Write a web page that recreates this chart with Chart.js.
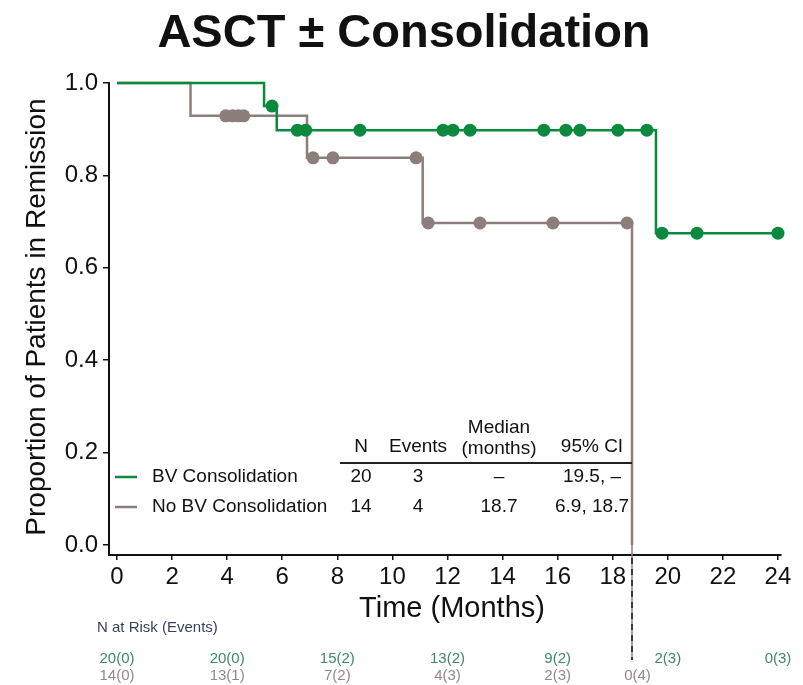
<!DOCTYPE html>
<html>
<head>
<meta charset="utf-8">
<script src="https://cdn.jsdelivr.net/npm/chart.js@4.4.1/dist/chart.umd.min.js"></script>
<style>
  html, body { margin: 0; padding: 0; background: #ffffff; }
  #wrap { width: 803px; height: 685px; position: relative; }
</style>
</head>
<body>
<div id="wrap"><canvas id="km" width="803" height="685"></canvas></div>
<script>
// Axis ticks
const xTicks = [0, 2, 4, 6, 8, 10, 12, 14, 16, 18, 20, 22, 24];
const yTicks = [0.0, 0.2, 0.4, 0.6, 0.8, 1.0];

// Kaplan-Meier steps: BV consolidation
const bvStepTimes = [0, 5.34, 5.8, 19.57, 24.0];
const bvStepSurv  = [1.0, 0.95, 0.898, 0.675, 0.675];
const bvCensorTimes = [5.63, 6.55, 6.85, 8.82, 11.84, 12.2, 12.82, 15.5, 16.3, 16.81, 18.19, 19.24, 19.79, 21.06, 24.0];
const bvCensorSurv  = [0.95, 0.898, 0.898, 0.898, 0.898, 0.898, 0.898, 0.898, 0.898, 0.898, 0.898, 0.898, 0.675, 0.675, 0.675];

// Kaplan-Meier steps: no BV consolidation
const noBvStepTimes = [0, 2.67, 6.9, 11.1, 18.7];
const noBvStepSurv  = [1.0, 0.929, 0.838, 0.697, 0.0];
const noBvCensorTimes = [3.95, 4.2, 4.4, 4.6, 7.12, 7.84, 10.86, 11.3, 13.18, 15.83, 18.52];
const noBvCensorSurv  = [0.929, 0.929, 0.929, 0.929, 0.838, 0.838, 0.838, 0.697, 0.697, 0.697, 0.697];

// Median time for the no-BV arm (months)
const medianNoBV = 18.7;

// Summary table
const tableHeads = ['N', 'Events', 'Median|(months)', '95% CI'];
const bvRow   = ['20', '3', '\u2013', '19.5, \u2013'];
const noBvRow = ['14', '4', '18.7', '6.9, 18.7'];

// Number at risk (events)
const bvRiskTimes = [0, 4, 8, 12, 16, 20, 24];
const bvAtRisk    = ['20(0)', '20(0)', '15(2)', '13(2)', '9(2)', '2(3)', '0(3)'];
const noBvRiskTimes = [0, 4, 8, 12, 16, 18.9];
const noBvAtRisk    = ['14(0)', '13(1)', '7(2)', '4(3)', '2(3)', '0(4)'];

const GREEN = '#0b8a3e';
const GRAY = '#8c7e7b';
const INK = '#111111';
const FONT = '"Liberation Sans", Arial, Helvetica, sans-serif';

const toPoints = (xs, ys) => xs.map((x, i) => ({ x: x, y: ys[i] }));

const annotations = {
  id: 'kmAnnotations',
  afterDraw(chart) {
    const c = chart.ctx;
    const xs = chart.scales.x;
    const ys = chart.scales.y;
    c.save();

    // Title
    c.fillStyle = INK;
    c.font = 'bold 47px ' + FONT;
    c.textAlign = 'center';
    c.textBaseline = 'alphabetic';
    c.fillText('ASCT \u00B1 Consolidation', 404, 47);

    // Axis titles
    c.font = '29px ' + FONT;
    c.textBaseline = 'middle';
    c.fillText('Time (Months)', 452, 609);
    c.save();
    c.translate(37, 317);
    c.rotate(-Math.PI / 2);
    c.font = '28px ' + FONT;
    c.fillText('Proportion of Patients in Remission', 0, 0);
    c.restore();

    // Median reference line for no-BV arm, continuing into the risk table
    const mx = xs.getPixelForValue(medianNoBV);
    const y0 = ys.getPixelForValue(0);
    c.strokeStyle = GRAY;
    c.lineWidth = 1.5;
    c.beginPath(); c.moveTo(mx, y0); c.lineTo(mx, 660); c.stroke();
    c.strokeStyle = '#1a1a1a';
    c.setLineDash([6, 5]);
    c.beginPath(); c.moveTo(mx, xs.top + 3); c.lineTo(mx, 660); c.stroke();
    c.setLineDash([]);

    // Legend + summary table
    const colX = [361, 418, 499, 592];
    const rowY = [477, 507];
    c.font = '19px ' + FONT;
    c.fillStyle = INK;
    c.textAlign = 'center';
    tableHeads.forEach((h, i) => {
      const parts = h.split('|');
      if (parts.length === 2) {
        c.fillText(parts[0], colX[i], 428);
        c.fillText(parts[1], colX[i], 449);
      } else {
        c.fillText(h, colX[i], 447);
      }
    });
    c.strokeStyle = '#222222';
    c.lineWidth = 2;
    c.beginPath(); c.moveTo(340, 463); c.lineTo(mx, 463); c.stroke();

    [[GREEN, 'BV Consolidation', bvRow], [GRAY, 'No BV Consolidation', noBvRow]].forEach((r, k) => {
      const y = rowY[k];
      c.strokeStyle = r[0];
      c.lineWidth = 2.5;
      c.beginPath(); c.moveTo(115, y); c.lineTo(137, y); c.stroke();
      c.fillStyle = INK;
      c.textAlign = 'left';
      c.fillText(r[1], 152, y);
      c.textAlign = 'center';
      r[2].forEach((v, i) => c.fillText(v, colX[i], y));
    });

    // Number at risk
    c.font = '15px ' + FONT;
    c.textAlign = 'left';
    c.fillStyle = '#3c4257';
    c.fillText('N at Risk (Events)', 97, 628);
    c.textAlign = 'center';
    c.fillStyle = '#3f8a62';
    bvAtRisk.forEach((s, i) => c.fillText(s, xs.getPixelForValue(bvRiskTimes[i]), 659));
    c.fillStyle = '#958788';
    noBvAtRisk.forEach((s, i) => c.fillText(s, xs.getPixelForValue(noBvRiskTimes[i]), 676));

    c.restore();
  }
};

new Chart(document.getElementById('km'), {
  type: 'scatter',
  data: {
    datasets: [
      { label: 'BV censored', data: toPoints(bvCensorTimes, bvCensorSurv), showLine: false,
        pointRadius: 6.5, pointBackgroundColor: GREEN, pointBorderWidth: 0, clip: false },
      { label: 'No BV censored', data: toPoints(noBvCensorTimes, noBvCensorSurv), showLine: false,
        pointRadius: 6.5, pointBackgroundColor: GRAY, pointBorderWidth: 0, clip: false },
      { label: 'BV Consolidation', data: toPoints(bvStepTimes, bvStepSurv), showLine: true,
        stepped: 'before', borderColor: GREEN, borderWidth: 2.5, pointRadius: 0, fill: false, clip: false },
      { label: 'No BV Consolidation', data: toPoints(noBvStepTimes, noBvStepSurv), showLine: true,
        stepped: 'before', borderColor: GRAY, borderWidth: 2.5, pointRadius: 0, fill: false, clip: false }
    ]
  },
  options: {
    responsive: false,
    animation: false,
    events: [],
    layout: { padding: { top: 83, right: 22, left: 0, bottom: 0 } },
    plugins: { legend: { display: false }, tooltip: { enabled: false }, title: { display: false } },
    scales: {
      x: {
        type: 'linear', min: -0.29, max: 24.11,
        afterBuildTicks: s => { s.ticks = xTicks.map(v => ({ value: v })); },
        afterFit: s => { s.height = 130; },
        grid: { drawOnChartArea: false, drawTicks: true, tickLength: 5, color: INK, lineWidth: 1.5 },
        border: { display: true, color: INK, width: 2 },
        ticks: { font: { family: FONT, size: 24 }, color: INK, padding: 3, maxRotation: 0, autoSkip: false,
                 callback: v => String(v) }
      },
      y: {
        type: 'linear', min: -0.0216, max: 1.0,
        afterBuildTicks: s => { s.ticks = yTicks.map(v => ({ value: v })); },
        afterFit: s => { s.width = 109; },
        grid: { drawOnChartArea: false, drawTicks: true, tickLength: 6, color: INK, lineWidth: 1.5 },
        border: { display: true, color: INK, width: 2 },
        ticks: { font: { family: FONT, size: 24 }, color: INK, padding: 5,
                 callback: v => Number(v).toFixed(1) }
      }
    }
  },
  plugins: [annotations]
});
</script>
</body>
</html>
